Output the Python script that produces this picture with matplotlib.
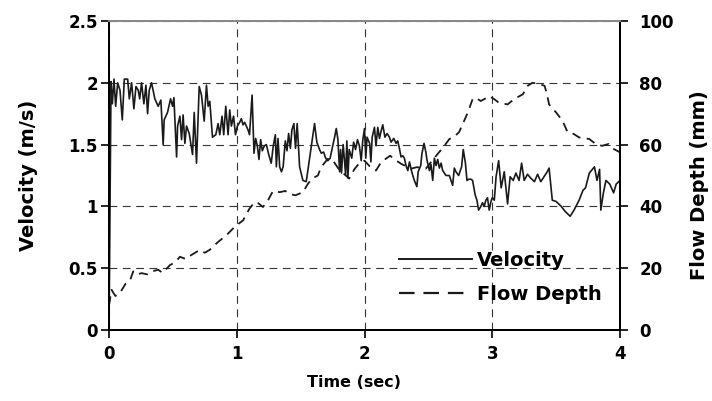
import matplotlib
matplotlib.use("Agg")
import matplotlib.pyplot as plt
from matplotlib.lines import Line2D

plt.rcParams.update({"font.family": "DejaVu Sans", "font.weight": "bold",
                     "font.size": 12})

# velocity (m/s) vs time (sec)
vel_t = [0.000, 0.016, 0.026, 0.039, 0.052, 0.068, 0.086, 0.104, 0.120, 0.146,
         0.159, 0.177, 0.195, 0.211, 0.229, 0.240, 0.255, 0.273, 0.289, 0.302,
         0.315, 0.333, 0.359, 0.385, 0.406, 0.424, 0.432, 0.458, 0.482, 0.498,
         0.508, 0.529, 0.537, 0.555, 0.568, 0.580, 0.594, 0.607, 0.628, 0.654,
         0.667, 0.685, 0.706, 0.724, 0.745, 0.763, 0.776, 0.789, 0.810, 0.836,
         0.854, 0.867, 0.885, 0.898, 0.914, 0.932, 0.945, 0.958, 0.975, 0.990,
         1.005, 1.023, 1.036, 1.049, 1.062, 1.088, 1.100, 1.120, 1.135, 1.148,
         1.161, 1.174, 1.187, 1.200, 1.216, 1.232, 1.250, 1.270, 1.286, 1.302,
         1.310, 1.323, 1.336, 1.350, 1.363, 1.380, 1.393, 1.406, 1.420, 1.432,
         1.447, 1.460, 1.473, 1.492, 1.518, 1.544, 1.570, 1.590, 1.609, 1.627,
         1.648, 1.662, 1.680, 1.696, 1.713, 1.731, 1.747, 1.766, 1.779, 1.792,
         1.805, 1.813, 1.820, 1.833, 1.852, 1.862, 1.870, 1.880, 1.900, 1.915,
         1.930, 1.945, 1.960, 1.974, 1.987, 2.000, 2.010, 2.020, 2.040, 2.050,
         2.060, 2.078, 2.090, 2.104, 2.117, 2.130, 2.143, 2.160, 2.177, 2.195,
         2.208, 2.229, 2.247, 2.260, 2.273, 2.286, 2.300, 2.312, 2.325, 2.339,
         2.352, 2.365, 2.378, 2.390, 2.410, 2.420, 2.440, 2.450, 2.466, 2.480,
         2.490, 2.508, 2.520, 2.534, 2.547, 2.560, 2.573, 2.586, 2.600, 2.612,
         2.638, 2.664, 2.677, 2.690, 2.703, 2.716, 2.737, 2.750, 2.760, 2.773,
         2.790, 2.802, 2.815, 2.833, 2.846, 2.867, 2.880, 2.893, 2.911, 2.924,
         2.937, 2.950, 2.963, 2.976, 2.990, 3.000, 3.016, 3.030, 3.050, 3.070,
         3.094, 3.120, 3.140, 3.164, 3.185, 3.210, 3.230, 3.250, 3.276, 3.300,
         3.330, 3.355, 3.380, 3.405, 3.430, 3.445, 3.470, 3.500, 3.540, 3.570,
         3.610, 3.640, 3.680, 3.710, 3.730, 3.760, 3.800, 3.820, 3.840, 3.850,
         3.870, 3.890, 3.920, 3.950, 3.970, 4.000]
vel_v = [0.00, 2.01, 1.83, 2.03, 1.81, 2.00, 1.94, 1.70, 2.03, 2.03,
         1.87, 2.00, 1.79, 1.97, 1.94, 1.87, 2.00, 1.83, 1.98, 1.75,
         1.94, 2.00, 1.87, 1.81, 1.86, 1.50, 1.70, 1.76, 1.87, 1.81,
         1.88, 1.40, 1.65, 1.73, 1.54, 1.74, 1.51, 1.65, 1.59, 1.42,
         1.76, 1.35, 1.97, 1.90, 1.69, 1.98, 1.81, 1.85, 1.56, 1.58,
         1.67, 1.58, 1.73, 1.58, 1.81, 1.58, 1.78, 1.65, 1.73, 1.58,
         1.65, 1.68, 1.71, 1.66, 1.68, 1.62, 1.58, 1.90, 1.43, 1.55,
         1.49, 1.38, 1.54, 1.45, 1.49, 1.50, 1.42, 1.35, 1.49, 1.58,
         1.32, 1.55, 1.32, 1.28, 1.32, 1.53, 1.45, 1.59, 1.47, 1.62,
         1.67, 1.47, 1.67, 1.32, 1.21, 1.20, 1.39, 1.53, 1.67, 1.52,
         1.46, 1.43, 1.44, 1.39, 1.37, 1.39, 1.47, 1.56, 1.63, 1.54,
         1.28, 1.46, 1.27, 1.50, 1.26, 1.53, 1.23, 1.46, 1.39, 1.52,
         1.46, 1.54, 1.49, 1.37, 1.54, 1.63, 1.39, 1.56, 1.51, 1.36,
         1.56, 1.64, 1.49, 1.64, 1.55, 1.61, 1.66, 1.56, 1.59, 1.56,
         1.52, 1.55, 1.51, 1.53, 1.47, 1.40, 1.41, 1.39, 1.33, 1.29,
         1.36, 1.30, 1.25, 1.21, 1.16, 1.28, 1.33, 1.43, 1.51, 1.44,
         1.37, 1.29, 1.34, 1.21, 1.39, 1.33, 1.38, 1.31, 1.35, 1.29,
         1.25, 1.25, 1.21, 1.17, 1.31, 1.28, 1.25, 1.29, 1.32, 1.46,
         1.35, 1.21, 1.22, 1.22, 1.21, 1.09, 1.05, 0.97, 1.00, 1.03,
         1.00, 1.05, 1.07, 0.97, 1.04, 1.07, 1.05, 1.24, 1.37, 1.15,
         1.28, 1.02, 1.24, 1.21, 1.27, 1.21, 1.35, 1.21, 1.26, 1.23,
         1.20, 1.26, 1.20, 1.24, 1.28, 1.31, 1.05, 1.04, 1.00, 0.96,
         0.92, 0.97, 1.05, 1.13, 1.15, 1.27, 1.32, 1.21, 1.30, 0.97,
         1.11, 1.21, 1.18, 1.11, 1.18, 1.21]

# flow depth (mm) vs time (sec)
depth_t = [0.000, 0.008, 0.020, 0.050, 0.086, 0.130, 0.164, 0.190, 0.220, 0.255,
           0.300, 0.340, 0.385, 0.420, 0.477, 0.520, 0.555, 0.600, 0.646, 0.710,
           0.750, 0.790, 0.854, 0.920, 0.984, 1.050, 1.100, 1.140, 1.170, 1.205,
           1.245, 1.284, 1.336, 1.380, 1.414, 1.460, 1.518, 1.557, 1.590, 1.635,
           1.660, 1.713, 1.750, 1.800, 1.880, 1.920, 1.960, 2.000, 2.040, 2.090,
           2.130, 2.200, 2.250, 2.290, 2.365, 2.410, 2.480, 2.520, 2.573, 2.625,
           2.664, 2.700, 2.740, 2.780, 2.810, 2.846, 2.870, 2.910, 2.950, 2.976,
           3.016, 3.050, 3.120, 3.170, 3.240, 3.276, 3.315, 3.370, 3.410, 3.430,
           3.445, 3.500, 3.550, 3.590, 3.640, 3.680, 3.760, 3.810, 3.860, 3.910,
           3.950, 4.000]
depth_mm = [8.0, 10.0, 13.0, 11.0, 12.0, 15.0, 16.0, 19.0, 18.0, 18.4,
            18.0, 19.0, 19.5, 18.5, 21.0, 22.0, 23.7, 23.0, 24.3, 25.9,
            25.0, 26.0, 28.5, 30.7, 33.4, 35.5, 39.3, 41.4, 41.0, 39.8,
            42.0, 45.0, 44.6, 45.0, 44.0, 43.6, 44.6, 47.3, 49.0, 50.0,
            52.7, 55.4, 55.0, 52.0, 49.0, 52.0, 54.0, 54.8, 53.0, 51.6,
            54.3, 56.4, 54.8, 53.7, 52.2, 52.7, 52.2, 54.3, 57.0, 59.6,
            61.8, 62.5, 64.0, 67.7, 70.5, 74.7, 75.2, 74.1, 75.0, 75.7,
            74.7, 73.6, 73.0, 74.7, 76.3, 79.0, 80.0, 79.6, 79.0, 76.0,
            73.0, 70.4, 67.7, 64.0, 63.4, 62.3, 61.8, 60.2, 59.6, 60.2,
            58.6, 57.5]

x_ticks = [0, 1, 2, 3, 4]
vel_ticks = [0, 0.5, 1, 1.5, 2, 2.5]
vel_labels = ["0", "0.5", "1", "1.5", "2", "2.5"]
depth_ticks = [0, 20, 40, 60, 80, 100]

fig = plt.figure(figsize=(7.12, 4.01), dpi=100)
ax = fig.add_axes([109 / 712, 71 / 401, 511 / 712, 309 / 401])
ax2 = ax.twinx()

ax.plot(vel_t, vel_v, color="#1a1a1a", lw=1.2, zorder=3)
ax2.plot(depth_t, depth_mm, color="#1a1a1a", lw=1.3, dashes=(5, 3.5))

ax.set_xlim(0, 4); ax.set_ylim(0, 2.5)
ax2.set_ylim(0, 100)
ax.set_xticks(x_ticks)
ax.set_yticks(vel_ticks); ax.set_yticklabels(vel_labels)
ax2.set_yticks(depth_ticks)

ax.grid(True, color="#333333", lw=0.8, ls=(0, (7, 5)))
for a in (ax, ax2):
    a.tick_params(direction="out", length=6, width=1.2, labelsize=12)
ax.tick_params(axis="x", pad=5)
ax.tick_params(axis="y", pad=2)
ax2.tick_params(axis="y", pad=8)

for a in (ax, ax2):
    for s in ("left", "right", "bottom"):
        a.spines[s].set_linewidth(1.4)
    a.spines["top"].set_color("#888888")
    a.spines["top"].set_linewidth(1.4)

ax.set_xlabel("Time (sec)", fontsize=11.5, fontweight="bold")
ax.xaxis.set_label_coords(0.479, -0.145)
ax.set_ylabel("Velocity (m/s)", fontsize=14, fontweight="bold")
ax.yaxis.set_label_coords(-0.139, 0.5)
ax2.set_ylabel("Flow Depth (mm)", fontsize=14, fontweight="bold")
ax2.yaxis.set_label_coords(1.137, 0.47)

handles = [Line2D([], [], color="#1a1a1a", lw=1.4),
           Line2D([], [], color="#1a1a1a", lw=1.6, dashes=(7, 4))]
ax2.legend(handles, ["Velocity", "Flow Depth"], loc="upper left",
           bbox_to_anchor=(399 / 712, 1 - 251 / 401), bbox_transform=fig.transFigure,
           frameon=False, handlelength=3.75, handletextpad=0.26,
           labelspacing=0.75, borderpad=0, borderaxespad=0,
           prop={"weight": "bold", "size": 14})

fig.savefig("out.png", dpi=100)
